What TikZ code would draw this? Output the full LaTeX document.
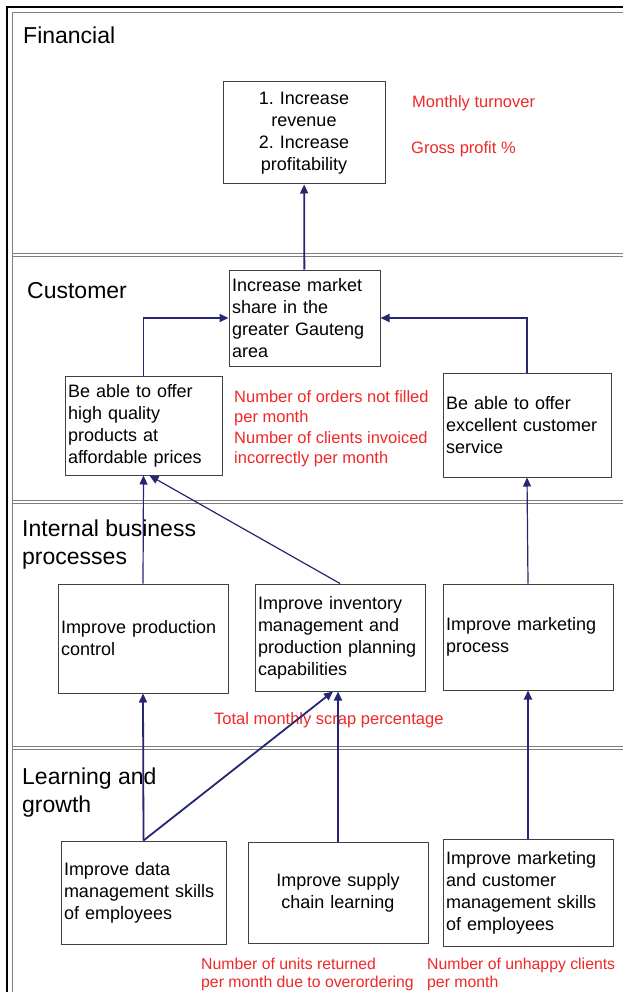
\documentclass[tikz,border=0pt]{standalone}
\usepackage{fontspec}
\setmainfont{Liberation Sans}
\usetikzlibrary{arrows.meta}
\definecolor{navy}{RGB}{38,38,115}
\definecolor{kpired}{RGB}{240,40,40}
\definecolor{panelgray}{RGB}{125,125,125}
\tikzset{
  box/.style={draw=black!75, line width=1pt, fill=white, inner xsep=3pt, inner ysep=0pt,
    align=left, font=\fontsize{18}{22}\selectfont},
  heading/.style={anchor=base west, inner sep=0pt, align=left, font=\fontsize{23}{28}\selectfont},
  kpi/.style={anchor=base west, inner sep=0pt, align=left, text=kpired, font=\fontsize{16.5}{20}\selectfont},
  smallkpi/.style={kpi, font=\fontsize{15.8}{18}\selectfont},
  link/.style={draw=navy, line width=1.8pt, -{Triangle[length=9pt,width=8pt]}},
  thinlink/.style={link, line width=1.2pt},
  divider/.style={draw=panelgray, double=white, line width=1.1pt, double distance=1.2pt}
}
\begin{document}
\begin{tikzpicture}[x=1pt,y=-1pt]
    \useasboundingbox[fill=white] (0,0) rectangle (623,992);
    % marco exterior y franjas
    \draw[line width=2.5pt] (7,992) -- (7,7) -- (623,7);
    \draw[panelgray, line width=1.2pt] (12.5,992) -- (12.5,12.5) -- (623,12.5);
    \draw[divider] (12.5,255) -- (623,255);
    \draw[divider] (12.5,502) -- (623,502);
    \draw[divider] (12.5,748) -- (623,748);
    % titulos de las perspectivas
    \node[heading] (hfin) at (23,44) {Financial};
    \node[heading] (hcus) at (27,298) {Customer};
    \node[heading] (hint) at (22,564) {Internal business\\processes};
    \node[heading] (hlea) at (22,812) {Learning and\\growth};
    % objetivos
    \node[box, align=center, text width=156pt, minimum height=102pt] (fin) at (304,133)
        {1.\ Increase\\revenue\\2.\ Increase\\profitability};
    \node[box, text width=145pt, minimum height=96pt] (market) at (304.5,318)
        {Increase market\\share in the\\greater Gauteng\\area};
    \node[box, text width=151pt, minimum height=99pt] (quality) at (143.5,425.5)
        {Be able to offer\\high quality\\products at\\affordable prices};
    \node[box, text width=162pt, minimum height=104pt] (service) at (527,425)
        {Be able to offer\\excellent customer\\service};
    \node[box, text width=164pt, minimum height=109pt] (prod) at (143,638.5)
        {Improve production\\control};
    \node[box, text width=164pt, minimum height=107pt] (inv) at (340,637.5)
        {Improve inventory\\management and\\production planning\\capabilities};
    \node[box, text width=164pt, minimum height=106pt] (mkt) at (528,637)
        {Improve marketing\\process};
    \node[box, text width=159pt, minimum height=103pt] (data) at (143.5,892.5)
        {Improve data\\management skills\\of employees};
    \node[box, align=center, text width=174pt, minimum height=101pt] (supply) at (338,892.5)
        {Improve supply\\chain learning};
    \node[box, text width=164pt, minimum height=107pt] (mktcus) at (528,892.5)
        {Improve marketing\\and customer\\management skills\\of employees};
    % indicadores
    \node[kpi] (kturn) at (412,108) {Monthly turnover};
    \node[kpi] (kgross) at (411,154) {Gross profit \%};
    \node[kpi] (korders) at (234,422) {Number of orders not filled\\per month};
    \node[kpi] (kinvoice) at (234,463) {Number of clients invoiced\\incorrectly per month};
    \node[kpi] (kscrap) at (214,724) {Total monthly scrap percentage};
    \node[smallkpi] (kreturn) at (201,987) {Number of units returned\\per month due to overordering};
    \node[smallkpi] (kunhappy) at (427,987) {Number of unhappy clients\\per month};
    % relaciones causa-efecto
    \draw[link] (market) -- (fin);
    \draw[link] (quality.north) |- (market.west);
    \draw[link] (service.north) |- (market.east);
    \draw[thinlink] (prod.north) -- (quality.south);
    \draw[thinlink] (inv.north) -- ([xshift=6pt]quality.south);
    \draw[thinlink] (mkt.north) -- (service.south);
    \draw[link] (data.north) -- (prod.south);
    \draw[link] (data.north) -- ([xshift=-7pt]inv.south);
    \draw[link] (supply.north) -- ([xshift=-2pt]inv.south);
    \draw[link] (mktcus.north) -- (mkt.south);
\end{tikzpicture}
\end{document}
